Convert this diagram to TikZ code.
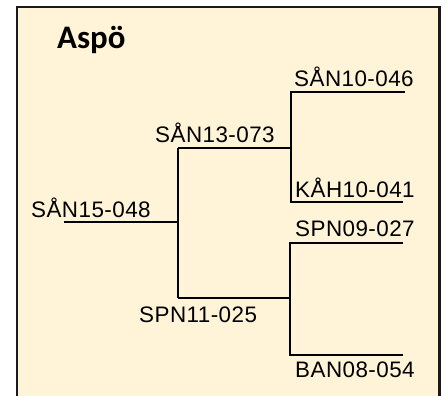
\documentclass[tikz,border=0pt]{standalone}
\usepackage{fontspec}
\setmainfont{Liberation Sans}
\newfontfamily\leaffont[LetterSpace=2]{Liberation Sans}
\newfontfamily\titlefont{Carlito}
\usepackage{tikz}
\usetikzlibrary{positioning}
\definecolor{boxfill}{HTML}{FFF4D7}

\begin{document}
\begin{tikzpicture}[x=1bp,y=-1bp,
  leaf/.style={anchor=base west,inner sep=0pt,font=\leaffont\fontsize{22.5}{22.5}\selectfont},
  branch/.style={color=black,line width=1.5bp}]
\useasboundingbox (0,0) rectangle (446,395);
\fill[boxfill] (17,7) rectangle (439.5,396);
\draw[color=black!90, line width=2.5bp] (17,397)--(17,7)--(439.5,7)--(439.5,397);
\node (T) at (57,48) [anchor=base west,inner sep=0pt,font=\titlefont\bfseries\fontsize{33}{33}\selectfont] {Aspö};
% splits
\coordinate (R0) at (64,222);
\coordinate (R1) at (178,222);
\coordinate (B1) at (178,148);
\coordinate (B2) at (178,298);
\coordinate (C1) at (291,148);
\coordinate (C2) at (290,298);
\coordinate (P1) at (291,92);
\coordinate (Q1) at (405,92);
\coordinate (P2) at (291,202);
\coordinate (Q2) at (403,202);
\coordinate (P3) at (290,243);
\coordinate (Q3) at (403,243);
\coordinate (P4) at (290,355);
\coordinate (Q4) at (403,355);
\draw[branch] (R0)--(R1);
\draw[branch] (B1)--(B2);
\draw[branch] (B1)--(C1);
\draw[branch] (B2)--(C2);
\draw[branch] (Q1)--(P1)--(P2)--(Q2);
\draw[branch] (Q3)--(P3)--(P4)--(Q4);
% labels
\node (N0) at (31,217) [leaf] {SÅN15-048};
\node (N1) at (155,142) [leaf] {SÅN13-073};
\node (N2) at (139,322) [leaf] {SPN11-025};
\node (A1) at (294,86) [leaf] {SÅN10-046};
\node (A2) at (295,197) [leaf] {KÅH10-041};
\node (A3) at (295,236) [leaf] {SPN09-027};
\node (A4) at (295,377) [leaf] {BAN08-054};
\end{tikzpicture}
\end{document}
